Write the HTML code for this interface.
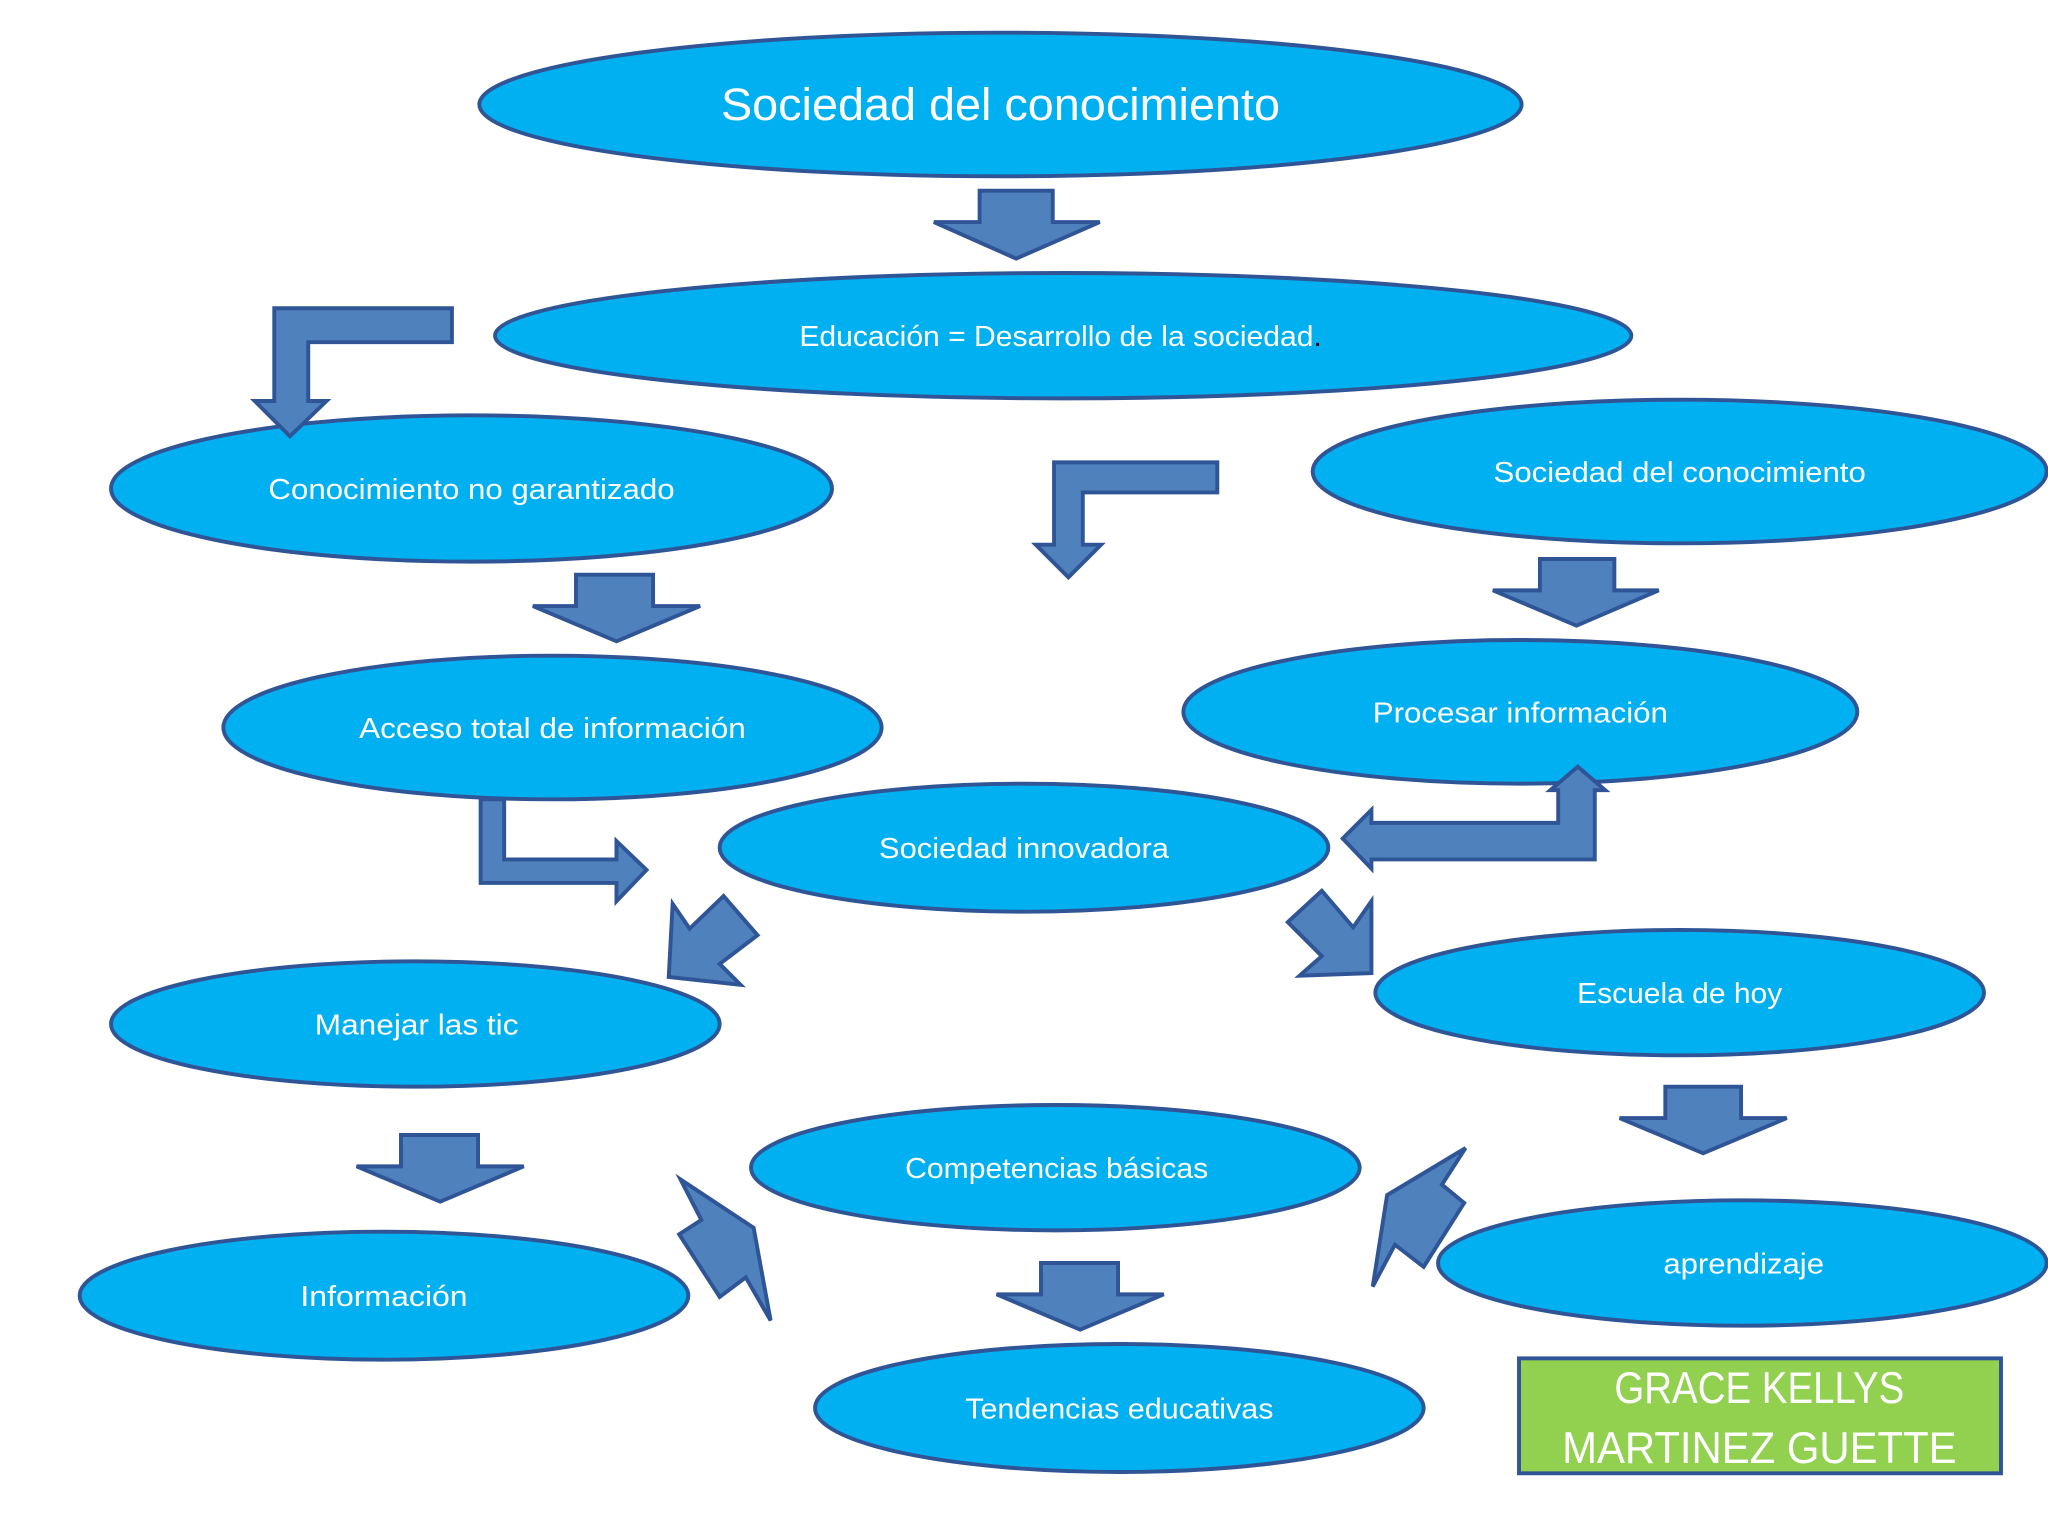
<!DOCTYPE html>
<html><head><meta charset="utf-8"><style>html,body{margin:0;padding:0;background:#fff}svg{display:block}</style></head>
<body>
<svg width="2048" height="1536" viewBox="0 0 1568 1176" xmlns="http://www.w3.org/2000/svg">
<rect width="1568" height="1176" fill="#fff"/>
<g fill="#00b0f0" stroke="#2f5597" stroke-width="3">
<ellipse cx="766" cy="80" rx="399" ry="55"/>
<ellipse cx="814" cy="257" rx="435" ry="48"/>
<ellipse cx="361" cy="374" rx="276" ry="56"/>
<ellipse cx="1286" cy="361" rx="281" ry="55"/>
<ellipse cx="423" cy="557" rx="252" ry="55"/>
<ellipse cx="1164" cy="545" rx="258" ry="55"/>
<ellipse cx="784" cy="649" rx="233" ry="49"/>
<ellipse cx="318" cy="784" rx="233" ry="48"/>
<ellipse cx="1286" cy="760" rx="233" ry="48"/>
<ellipse cx="808" cy="894" rx="233" ry="48"/>
<ellipse cx="1334" cy="967" rx="233" ry="48"/>
<ellipse cx="294" cy="992" rx="233" ry="49"/>
<ellipse cx="857" cy="1078" rx="233" ry="49"/>
</g>
<g fill="#4f81bd" stroke="#2f5597" stroke-width="3" stroke-linejoin="miter">
<polygon points="750,146 806,146 806,170 842,170 778,198 715,170 750,170"/>
<polygon points="441,440 500,440 500,464 536,464 472,491 408,464 441,464"/>
<polygon points="1179,428 1236,428 1236,452 1270,452 1207,479 1143,452 1179,452"/>
<polygon points="1275,832 1333,832 1333,856 1368,856 1304,883 1240,856 1275,856"/>
<polygon points="307,869 366,869 366,893 401,893 337,920 273,893 307,893"/>
<polygon points="797,967 856,967 856,991 891,991 827,1018 763,991 797,991"/>
<polygon points="346,236 210,236 210,307 195,307 222,334 250,307 236,307 236,262 346,262"/>
<polygon points="932,354 807,354 807,417 793,417 818,442 843,417 829,417 829,377 932,377"/>
<polygon points="368,612 386,612 386,658 472,658 472,644 495,666 472,690 472,676 368,676"/>
<polygon points="1221,658 1050,658 1050,665 1028,642 1050,620 1050,630 1193,630 1193,605 1187,605 1208,587 1229,605 1221,605"/>
<polygon points="554,686 580,716 551,738 567,754 512,748 515,692 528,711"/>
<polygon points="986,706 1012,682 1036,710 1050,690 1050,745 995,747 1012,732"/>
<polygon points="521,903 577,940 590,1011 571,978 551,993 520,945 537,934"/>
<polygon points="1122,879 1104,907 1121,921 1090,970 1068,953 1051,985 1062,915"/>
</g>
<rect x="1163" y="1040" width="369" height="88" fill="#92d050" stroke="#2f5597" stroke-width="3"/>
<g fill="#fff" font-family="Liberation Sans, sans-serif" text-anchor="middle" font-size="22">
<text x="766" y="92" font-size="35" textLength="428" lengthAdjust="spacingAndGlyphs">Sociedad del conocimiento</text>
<text x="812" y="265" textLength="400" lengthAdjust="spacingAndGlyphs">Educación = Desarrollo de la sociedad<tspan fill="#000">.</tspan></text>
<text x="361" y="382" textLength="311" lengthAdjust="spacingAndGlyphs">Conocimiento no garantizado</text>
<text x="1286" y="369" textLength="285" lengthAdjust="spacingAndGlyphs">Sociedad del conocimiento</text>
<text x="423" y="565" textLength="296" lengthAdjust="spacingAndGlyphs">Acceso total de información</text>
<text x="1164" y="553" textLength="226" lengthAdjust="spacingAndGlyphs">Procesar información</text>
<text x="784" y="657" textLength="222" lengthAdjust="spacingAndGlyphs">Sociedad innovadora</text>
<text x="319" y="792" textLength="156" lengthAdjust="spacingAndGlyphs">Manejar las tic</text>
<text x="1286" y="768" textLength="157" lengthAdjust="spacingAndGlyphs">Escuela de hoy</text>
<text x="809" y="902" textLength="232" lengthAdjust="spacingAndGlyphs">Competencias básicas</text>
<text x="1335" y="975" textLength="123" lengthAdjust="spacingAndGlyphs">aprendizaje</text>
<text x="294" y="1000" textLength="128" lengthAdjust="spacingAndGlyphs">Información</text>
<text x="857" y="1086" textLength="236" lengthAdjust="spacingAndGlyphs">Tendencias educativas</text>
<text x="1347" y="1074" font-size="34" textLength="222" lengthAdjust="spacingAndGlyphs">GRACE KELLYS</text>
<text x="1347" y="1120" font-size="34" textLength="302" lengthAdjust="spacingAndGlyphs">MARTINEZ GUETTE</text>
</g>
</svg>
</body></html>
